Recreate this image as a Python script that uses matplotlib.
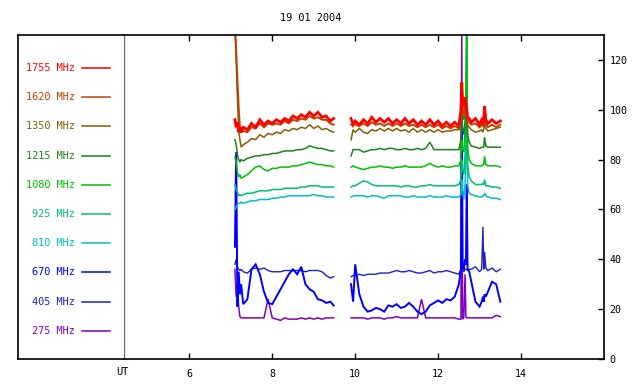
import matplotlib
matplotlib.use("Agg")
import matplotlib.pyplot as plt
import numpy as np

plt.rcParams['font.family'] = ['DejaVu Sans Mono']

title = "19 01 2004"
labels = ["1755 MHz", "1620 MHz", "1350 MHz", "1215 MHz", "1080 MHz",
          "925 MHz", "810 MHz", "670 MHz", "405 MHz", "275 MHz"]
colors = ["#ff0000", "#c04000", "#806000", "#208020", "#00c000",
          "#00c070", "#00c0c0", "#0000ff", "#2020c0", "#8000c0"]
xticks = [6, 8, 10, 12, 14]
yticks = [0, 20, 40, 60, 80, 100, 120]

t1 = [7.10, 7.13, 7.16, 7.19, 7.22, 7.25, 7.30, 7.40, 7.50, 7.60, 7.70, 7.80, 7.90, 8.00,
      8.10, 8.20, 8.30, 8.40, 8.50, 8.60, 8.70, 8.80, 8.90, 9.00, 9.10, 9.20, 9.30, 9.40, 9.48]
t2 = [9.90, 9.95, 10.00, 10.10, 10.20, 10.30, 10.40, 10.50, 10.60, 10.70, 10.80, 10.90,
      11.00, 11.10, 11.20, 11.30, 11.40, 11.50, 11.60, 11.70, 11.80, 11.90, 12.00, 12.10,
      12.20, 12.30, 12.40, 12.50, 12.55, 12.57, 12.59, 12.62, 12.65, 12.67, 12.69, 12.71,
      12.75, 12.80, 12.90, 13.00, 13.05, 13.08, 13.10, 13.12, 13.15, 13.20, 13.30, 13.40, 13.50]

s1755_a = [96, 93, 95, 91, 93, 91, 93, 92, 94.5, 93, 96, 94, 95.5, 94.5, 96, 95, 96.5, 95.5,
           97.5, 96.5, 98, 97, 99, 97.5, 99, 97, 97.5, 95.5, 96.5]
s1755_b = [96.5, 94, 95.5, 94, 96, 94.5, 97, 95, 96.5, 95, 96.5, 94.5, 96, 94.5, 96.5, 94.5,
           96, 94, 95.5, 94, 96, 94, 95.5, 93.5, 95, 93.5, 95, 93.5, 100, 111, 104, 101, 105,
           102, 100, 97, 96.5, 95, 96.5, 94, 96, 95, 96, 101.5, 96, 94.5, 96, 94.5, 95.5]
s1620_a = [135, 124, 112, 101, 93, 91, 91.5, 91, 93, 92.5, 94.5, 93, 94.5, 94, 94.5, 94, 95.5,
           94.5, 96, 95.5, 96.5, 96, 97.5, 96.5, 97, 96, 96, 94.5, 94]
s1620_b = [94, 94.5, 94, 93.5, 94.5, 93.5, 95, 94, 94.5, 93.5, 94.5, 93.5, 94.5, 93.5, 94.5,
           93.5, 94, 93, 94, 93, 94, 93, 94, 92.5, 93.5, 92.5, 93.5, 92.5, 98, 106, 101, 98,
           101, 100, 98, 96, 95, 94, 94.5, 93, 94, 93.5, 94, 98, 94.5, 93, 94, 93, 94]
s1350_a = [133, 120, 105, 92, 88, 85, 86, 87, 88.5, 88, 90, 89, 90.5, 90, 91, 90.5, 92, 91.5,
           92.5, 92, 93, 92.5, 94, 92.5, 93.5, 92, 92.5, 91.5, 91]
s1350_b = [88, 92, 91, 92.5, 91, 90.5, 92, 91.5, 92.5, 91.5, 92.5, 91.5, 92.5, 91.5, 92, 91,
           92.5, 91, 92, 91, 92, 91, 92, 91, 91.5, 91.5, 92, 92, 96, 104, 98, 96, 100, 99, 97,
           94, 93, 92, 91, 91.5, 92, 91, 92, 95, 92.5, 91.5, 92, 92.5, 93]
s1215_a = [88, 86, 82, 80, 79, 80, 79.5, 80.5, 81, 81.5, 81.5, 82, 82, 82.5, 82.5, 83, 83.5,
           83.5, 83.5, 84, 84, 84.5, 85.5, 85, 84.5, 84.5, 84, 83.5, 83.5]
s1215_b = [81.5, 84, 84, 84, 83, 83.5, 84, 84, 84.5, 84, 84.5, 84.5, 84, 84, 84.5, 84, 84,
           84.5, 84, 84.5, 87, 84, 84, 84, 84, 84, 84, 84, 88, 97, 93, 90, 95, 97, 96, 90,
           87, 85.5, 85, 84.5, 85, 85, 85, 89, 85.5, 85, 85, 85, 85]
s1080_a = [81, 79, 75, 73, 74, 72.5, 73, 74, 75.5, 77, 77.5, 76, 75.5, 76.5, 76.5, 77, 77,
           77, 77.5, 77.5, 78, 78.5, 79, 78.5, 78, 78, 77.5, 77.5, 77]
s1080_b = [77, 77.5, 77, 76.5, 76, 76.5, 77, 77, 77.5, 77, 77, 76.5, 77, 77, 77.5, 77, 77,
           77, 77, 77.5, 78.5, 77.5, 77, 77.5, 77, 77, 77.5, 77.5, 80, 88, 84, 83, 92, 110,
           135, 85, 80, 78.5, 77.5, 77.5, 77.5, 78, 78, 81.3, 78, 77.5, 77.5, 77.5, 77]
s925_a = [70, 68, 67, 65.5, 66, 65.5, 66, 66.5, 66.5, 67, 67.5, 67.5, 67.5, 68, 68, 68, 68.5,
          68.5, 68.5, 68.5, 69, 69, 69.5, 69.5, 69.5, 69, 69, 69, 69]
s925_b = [69, 69.5, 69.5, 70.5, 71.5, 71, 70, 69.5, 69.5, 69.5, 69.5, 69.5, 69.5, 69, 69.5,
          69.5, 69, 69, 69.5, 69.5, 70, 69.5, 69.5, 69.5, 69.5, 69.5, 69.5, 70, 72, 80, 76,
          74, 82, 95, 135, 78, 73, 71.5, 70, 70, 70, 70.5, 70, 72, 69.5, 69.5, 69, 69, 68.5]
s810_a = [60, 61, 62, 62.5, 62.5, 63, 62.5, 63, 63.5, 63.5, 64, 64, 64, 64.5, 64.5, 65, 65,
          65.5, 65.5, 65.5, 65.5, 65.5, 65.5, 66, 65.5, 65.5, 65, 65, 65]
s810_b = [65, 65.5, 65.5, 65.5, 65.5, 65, 65.5, 65.5, 65, 64.5, 65.5, 65.5, 65.5, 65.5, 65,
          65, 65.5, 65, 65, 65, 65.5, 65, 65, 65, 65.5, 65, 65, 65, 66, 72, 68, 64, 70, 80,
          135, 70, 66.5, 66, 65.5, 65, 65, 65.5, 65.5, 66.5, 65.5, 65, 64.5, 64.5, 64]
s670_a = [45, 83, 21, 35, 26, 30, 22, 24, 36, 38, 34, 27, 22.5, 22, 25, 28, 31, 34, 36, 34,
          37, 30, 28, 27, 24, 23.5, 22.5, 23, 21.5]
s670_b = [30, 23, 38, 26, 21, 19, 19.5, 20.5, 20, 19, 21.5, 21, 22, 20.5, 21, 22.5, 21, 19,
          18, 19, 21.5, 22.5, 23.5, 22.5, 24, 23.5, 25, 30, 36, 111, 37, 36, 40, 38, 70, 36,
          35, 31, 23, 21, 23, 25, 23, 26, 25, 27, 31, 30, 23]
s405_a = [38, 40, 37, 36, 35.5, 36, 35, 34.5, 36, 36.5, 36, 36.5, 35.5, 35, 35, 35, 35.5,
          35.5, 35.5, 35.5, 35.5, 35, 35.5, 35.5, 35.5, 35, 33.5, 32.5, 33]
s405_b = [33, 33.5, 33.5, 34, 33.5, 34, 34, 34, 34.5, 34.5, 34.5, 35, 35.5, 35, 35, 35.5, 35,
          34.5, 34.5, 35, 35.5, 34.5, 35, 35, 35.5, 35, 34.5, 34, 36, 37, 36, 35, 36, 36, 36,
          35.5, 36, 36, 37, 35, 36, 53, 36, 43, 36.5, 35.5, 36.5, 35, 36]
s275_a = [36, 25, 30, 21, 17, 16.5, 16.5, 16.5, 16.5, 16.5, 16.5, 16.5, 24, 16.5, 16, 15.5,
          16.5, 16, 16, 16, 16.5, 16, 16.5, 16, 16.5, 16, 16.5, 16.5, 16.5]
s275_b = [16.5, 16.5, 16.5, 16.5, 16.5, 16, 16.5, 16.5, 16.5, 16, 16.5, 16.5, 17, 16.5, 16.5,
          16.5, 16.5, 16.5, 24, 16.5, 16.5, 16.5, 16.5, 16.5, 16.5, 16.5, 16.5, 16, 16, 135,
          16, 16.5, 34, 17, 16.5, 16.5, 16.5, 16.5, 16.5, 16.5, 16.5, 16.5, 16.5, 16.5, 16.5,
          16.5, 16.5, 17.5, 17]

series = [
    (s1755_a, s1755_b), (s1620_a, s1620_b), (s1350_a, s1350_b), (s1215_a, s1215_b),
    (s1080_a, s1080_b), (s925_a, s925_b), (s810_a, s810_b), (s670_a, s670_b),
    (s405_a, s405_b), (s275_a, s275_b),
]
widths = [2.0, 1.4, 1.1, 1.1, 1.1, 1.1, 1.1, 1.4, 1.0, 1.1]

W, H = 640, 384
fig = plt.figure(figsize=(6.4, 3.84), dpi=100)
L, R, T, B = 124, 604, 35, 359
ax = fig.add_axes([L / W, 1 - B / H, (R - L) / W, (B - T) / H])
lax = fig.add_axes([18 / W, 1 - B / H, (L - 18) / W, (B - T) / H])

# draw lowest frequency first so higher ones overlay
for i in reversed(range(len(series))):
    a, b = series[i]
    ax.plot(t1, a, color=colors[i], lw=widths[i], solid_joinstyle='miter')
    ax.plot(t2, b, color=colors[i], lw=widths[i], solid_joinstyle='miter')

ax.set_xlim(4.425, 16.0)
ax.set_ylim(0, 130)
ax.set_xticks(xticks)
ax.set_xticklabels([str(v) for v in xticks])
ax.set_yticks(yticks)
ax.yaxis.tick_right()
ax.tick_params(axis='y', direction='in', length=4, width=1, right=True, left=False,
               labelsize=7.2, pad=4)
ax.tick_params(axis='x', direction='in', length=4, width=1, top=True, bottom=True,
               labelsize=7.2, pad=7)
for s in ['top', 'bottom', 'right']:
    ax.spines[s].set_linewidth(1.2)
    ax.spines[s].set_color('black')
ax.spines['left'].set_color('#707070')
ax.spines['left'].set_linewidth(1.0)

# legend panel
lax.set_xlim(18, L)
lax.set_ylim(B, T)
lax.set_xticks([])
lax.set_yticks([])
for s in ['top', 'bottom', 'left']:
    lax.spines[s].set_linewidth(1.2)
    lax.spines[s].set_color('black')
lax.spines['right'].set_visible(False)
for i, lab in enumerate(labels):
    yy = 68 + i * 29.2
    lax.plot([82, 110], [yy, yy], color=colors[i], lw=1.1)
    lax.text(75, yy, lab, color=colors[i], ha='right', va='center', fontsize=7.4)

fig.text(311 / W, 1 - 18 / H, title, ha='center', va='center', fontsize=7.4)
fig.text(122 / W, 1 - 372 / H, "UT", ha='center', va='center', fontsize=7.4)

fig.savefig("out.png", dpi=100)
